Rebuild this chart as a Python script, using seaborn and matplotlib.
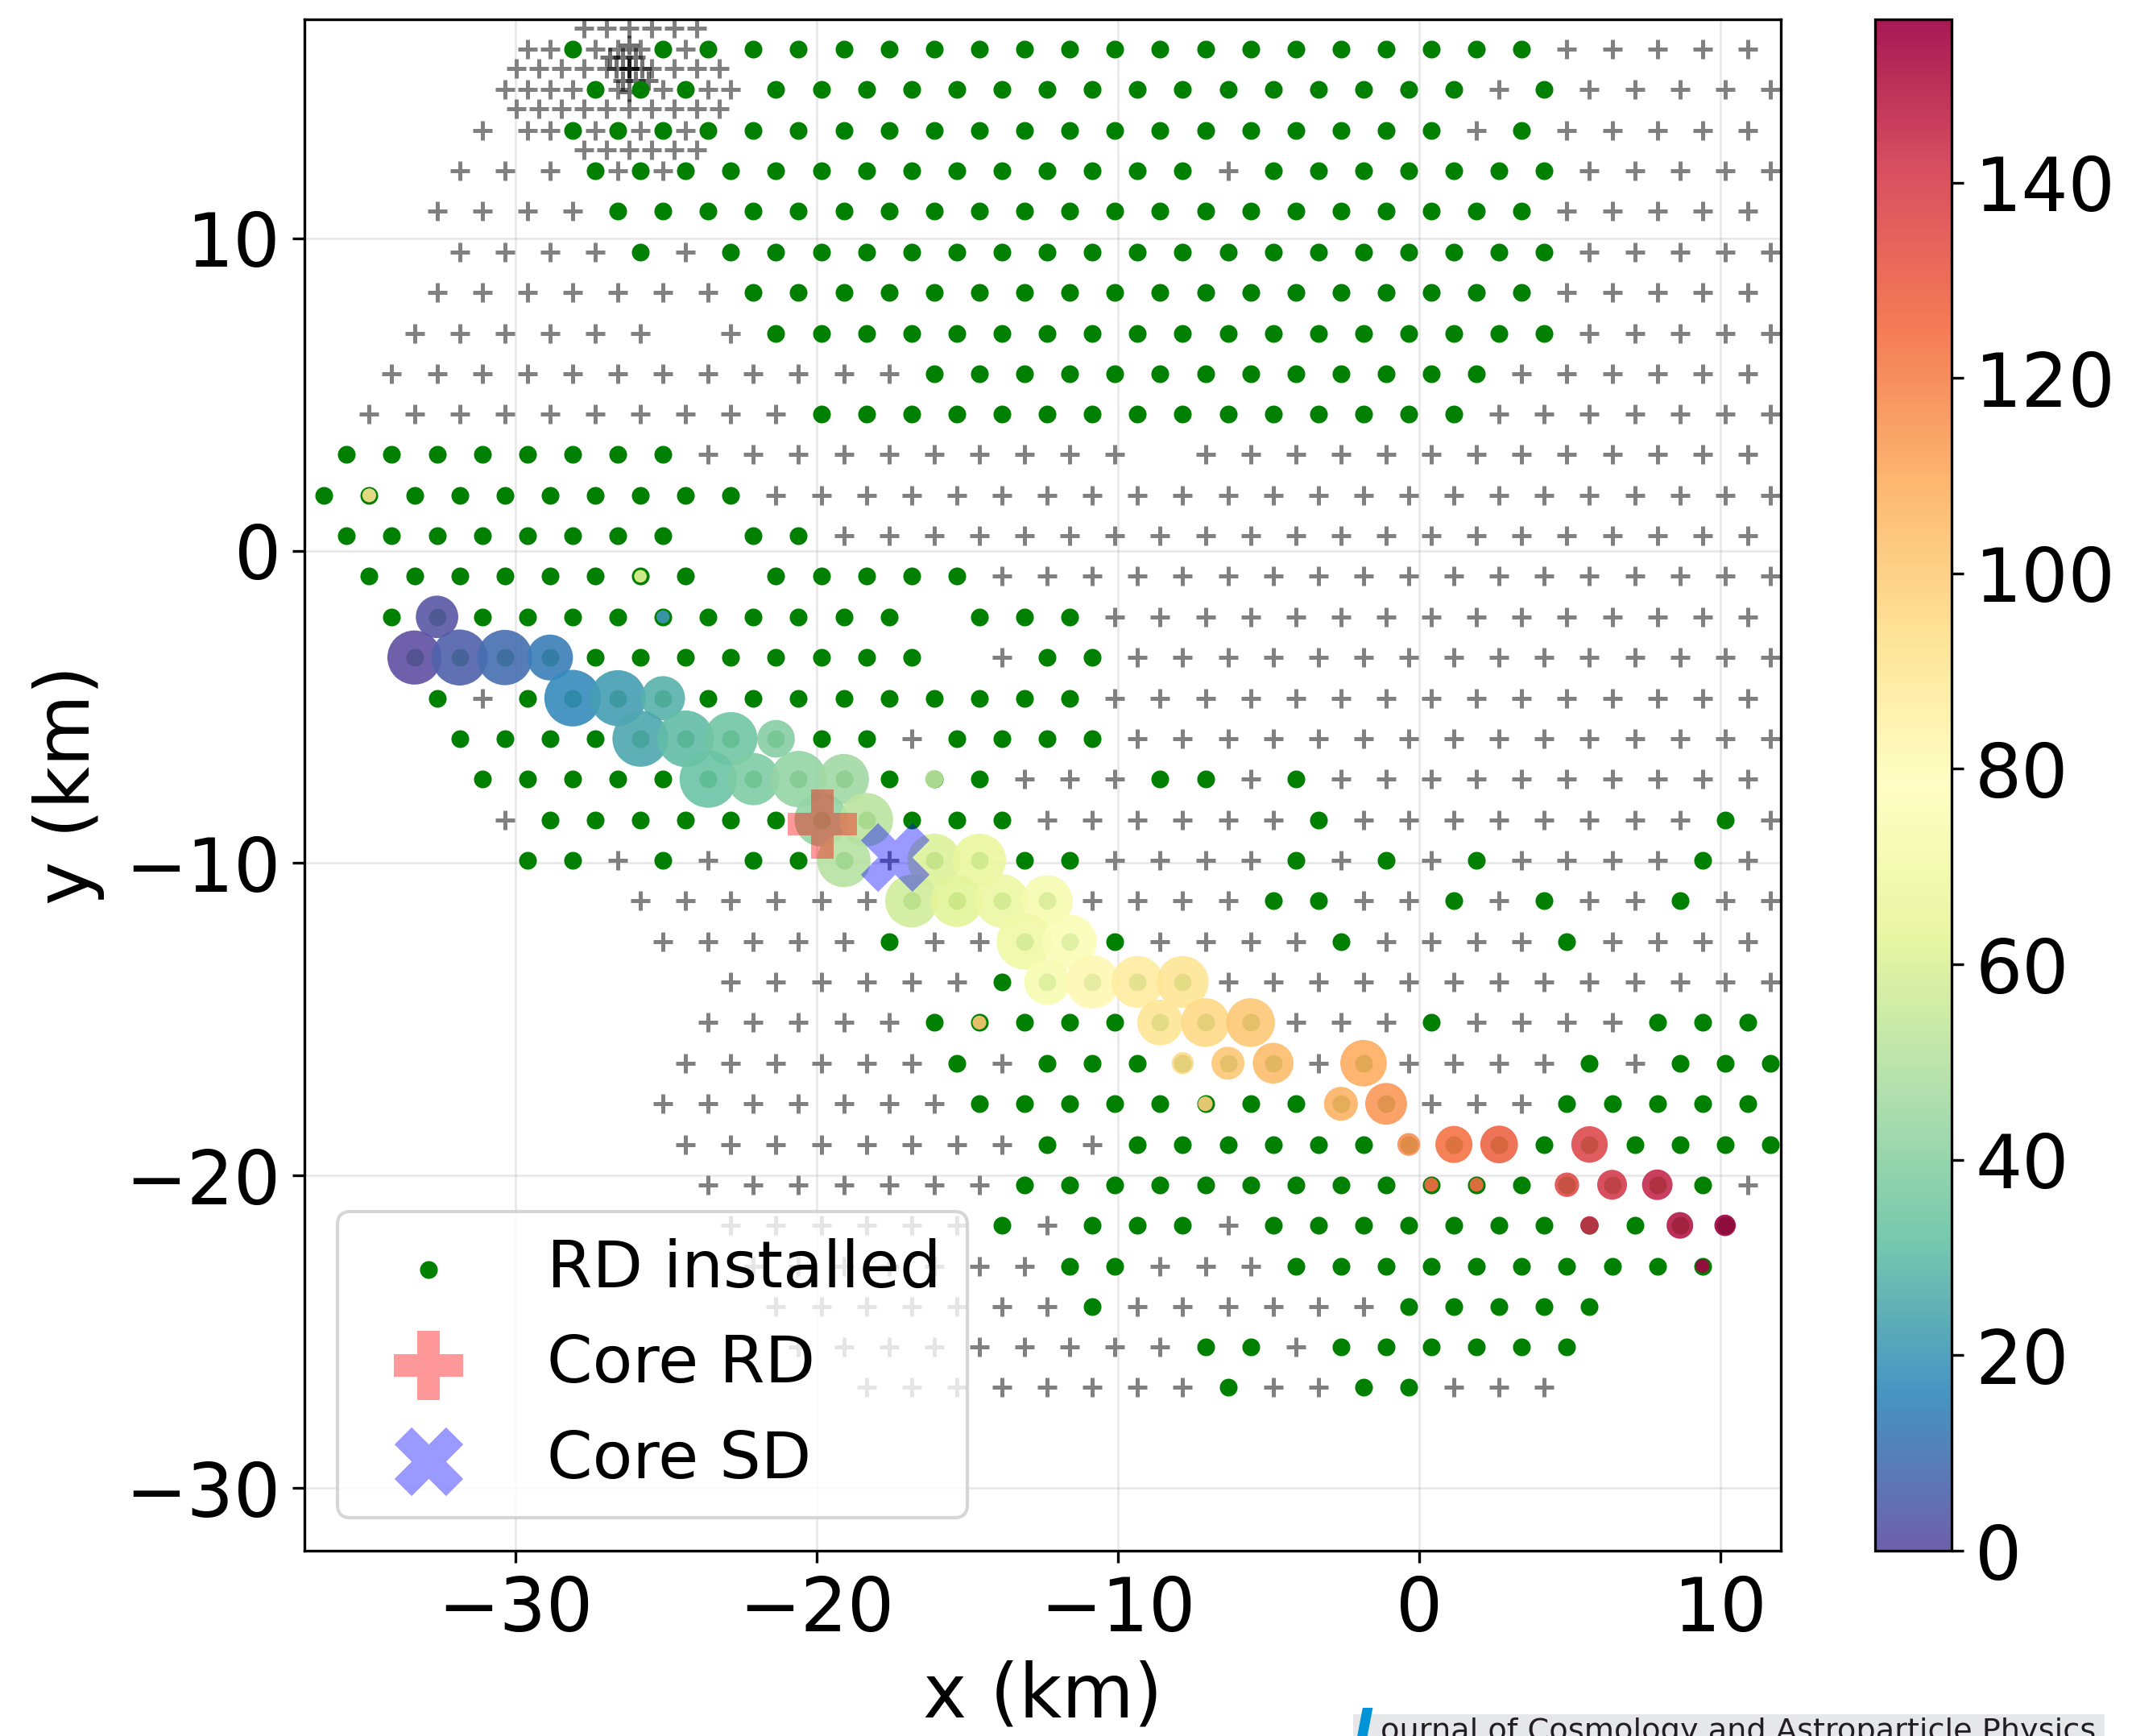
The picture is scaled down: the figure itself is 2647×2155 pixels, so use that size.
import matplotlib
matplotlib.use("Agg")
import matplotlib.pyplot as plt
import matplotlib as mpl
import pandas as pd
import seaborn as sns
from matplotlib.patches import Rectangle
from matplotlib import font_manager

# Surface detector grid (1.5 km triangular), read row by row from the top of the picture.
# Each row: its y (km), x of its first station (km) and a layout string,
# 'o' = RD installed (green dot), '+' = SD only (grey plus), ' ' = no station.
row_y = [16.05, 14.75, 13.45, 12.16, 10.86, 9.56, 8.26, 6.96, 5.67, 4.37, 3.07, 1.77,
         0.47, -0.82, -2.12, -3.42, -4.72, -6.02, -7.31, -8.61, -9.91, -11.21, -12.51,
         -13.80, -15.10, -16.40, -17.70, -19.00, -20.29, -21.59, -22.89, -24.19, -25.49, -26.78]
row_x0 = [-29.60, -30.35, -31.10, -31.85, -32.60, -31.85, -32.60, -33.35, -34.10, -34.85,
          -35.60, -36.35, -35.60, -34.85, -34.10, -33.35, -32.60, -31.85, -31.10, -30.35,
          -29.60, -25.85, -25.10, -22.85, -23.60, -24.35, -25.10, -24.35, -23.60, -22.85,
          -22.10, -21.35, -20.60, -18.35]
row_layout = [
    "+o+" + "o" * 20 + "+" * 5,
    "++ooo+o" + "o" * 15 + "+o" + "+" * 5,
    "++" + "o" * 20 + "+o" + "+" * 5,
    "+++" + "o" * 14 + "+" + "o" * 7 + "+" * 5,
    "++++" + "o" * 21 + "+" * 5,
    "++++o+" + "o" * 19 + "+" * 5,
    "+" * 7 + "o" * 18 + "+" * 5,
    "+" * 6 + " +" + "o" * 18 + "+" * 5,
    "+" * 12 + "o" * 13 + "+" * 6,
    "+" * 10 + "o" * 15 + "+" * 7,
    "o" * 8 + "+" * 10 + " " + "+" * 13,
    "o" * 10 + "+" * 23,
    "o" * 8 + " oo" + "+" * 21,
    "o" * 8 + " " + "o" * 5 + "+" * 18,
    "o" * 12 + " ooo" + "+" * 15,
    "o" * 12 + " +oo" + "+" * 15,
    "o+" + "o" * 13 + "+" * 15,
    "o" * 10 + "+" + "o" * 4 + "+" * 15,
    "o" * 12 + "+++oo+o" + "+" * 10,
    "+" + "o" * 11 + "+" * 6 + "o" + "+" * 8 + "o+",
    "oo+o+ooo+oooo++++o+o+o++++o+",
    "++++++oooo++++oo++o+o++o++",
    "+++++o++ooo++++o++++o++++",
    "++++++ooooo" + "+" * 13,
    "+++++oooooooo+++o++++ooo",
    "++++++o+oooooo+o++++o+ooo",
    "+" * 7 + "o" * 10 + "+++" + "o" * 5,
    "+" * 8 + "o+" + "o" * 15,
    "+" * 7 + "o" * 16 + "+",
    "+" * 6 + "o+ooo+" + "o" * 11,
    "+" * 7 + "oo+++" + "o" * 10,
    "+" * 7 + "o" + "+" * 6 + "o" * 5,
    "+" * 9 + "oo+" + "o" * 6,
    "+" * 8 + "o++oo+++",
]
GRID_STEP = 1.5

# 750 m infill (SD only) around the top-left corner
infill_y = [16.71, 16.05, 15.42, 14.75, 14.13, 13.45, 12.83, 12.16]
infill_x = [
    [-27.725, -26.975, -26.225, -25.475, -24.725, -23.975],
    [-28.85, -27.35, -25.85, -24.35],
    [-29.975, -29.225, -28.475, -27.725, -26.975, -26.225, -25.475, -24.725, -23.975, -23.225],
    [-29.60, -28.10, -26.60, -25.10, -23.60],
    [-29.975, -29.225, -28.475, -27.725, -26.975, -26.225, -25.475, -24.725, -23.975, -23.225],
    [-28.85, -27.35, -25.85, -24.35],
    [-27.725, -26.975, -26.225, -25.475, -24.725, -23.975],
    [-26.60, -25.10],
]

# dense cluster in the infill centre (dark pluses)
cluster_x = [-26.23, -26.23, -26.66, -25.79, -26.45, -26.01, -26.45, -26.01, -26.23, -26.23,
             -26.88, -25.58]
cluster_y = [15.42, 15.42, 15.42, 15.42, 15.80, 15.80, 15.05, 15.05, 16.17, 14.68,
             15.80, 15.05]

# stations with a radio signal: position (km), colour value, marker area
sig_x = [-32.60, -33.35, -31.85, -30.35, -28.85, -28.10, -26.60, -25.10, -25.85, -24.35,
         -22.85, -21.35, -23.60, -22.10, -20.60, -25.85, -25.10, -34.85, -19.10, -16.10,
         -19.85, -18.35, -19.10, -16.10, -14.60, -16.85, -15.35, -13.85, -12.35, -13.10,
         -11.60, -12.35, -10.85, -9.35, -7.85, -14.60, -8.60, -7.10, -5.60, -7.85,
         -6.35, -4.85, -7.10, -1.85, -2.60, -1.10, -0.35, 1.15, 2.65, 5.65,
         0.40, 1.90, 4.90, 6.40, 7.90, 5.65, 8.65, 10.15, 9.40]
sig_y = [-2.12, -3.42, -3.42, -3.42, -3.42, -4.72, -4.72, -4.72, -6.02, -6.02,
         -6.02, -6.02, -7.31, -7.31, -7.31, -0.82, -2.12, 1.77, -7.31, -7.31,
         -8.61, -8.61, -9.91, -9.91, -9.91, -11.21, -11.21, -11.21, -11.21, -12.51,
         -12.51, -13.80, -13.80, -13.80, -13.80, -15.10, -15.10, -15.10, -15.10, -16.40,
         -16.40, -16.40, -17.70, -16.40, -17.70, -17.70, -19.00, -19.00, -19.00, -19.00,
         -20.29, -20.29, -20.29, -20.29, -20.29, -21.59, -21.59, -21.59, -22.89]
sig_value = [2, 0, 5, 9, 13, 17, 22, 27, 24, 30,
             34, 39, 33, 37, 42, 63, 20, 92, 45, 52,
             42, 52, 50, 60, 65, 57, 62, 67, 72, 69,
             75, 73, 82, 87, 91, 101, 91, 96, 101, 96,
             101, 105, 99, 110, 108, 115, 117, 124, 128, 137,
             125, 126, 136, 141, 146, 145, 150, 156.7, 156]
sig_area = [160, 260, 278, 272, 187, 284, 278, 172, 278, 284,
            254, 126, 291, 242, 282, 14, 15, 17, 225, 30,
            254, 254, 254, 254, 254, 248, 239, 254, 233, 278,
            260, 187, 254, 239, 239, 17, 185, 211, 211, 43,
            97, 148, 19, 192, 102, 155, 46, 122, 126, 118,
            17, 17, 53, 79, 83, 30, 63, 41, 17]

core_rd_x, core_rd_y = [-19.8], [-8.75]
core_sd_x, core_sd_y = [-17.4], [-9.8]
VMIN, VMAX = 0, 156.7

# build the station table from the row layouts
records = []
for y, x0, layout in zip(row_y, row_x0, row_layout):
    for i, ch in enumerate(layout):
        if ch == " ":
            continue
        records.append({"x": x0 + GRID_STEP * i, "y": y, "rd": ch == "o"})
for y, xs in zip(infill_y, infill_x):
    for x in xs:
        records.append({"x": x, "y": y, "rd": False})
stations = pd.DataFrame(records)
sd_only = stations[~stations["rd"]]
rd_on = stations[stations["rd"]]

W, H = 2647, 2155
fig = plt.figure(figsize=(W / 300, H / 300), dpi=300)
ax = fig.add_axes([378 / W, 1 - 1925 / H, (2211 - 378) / W, (1925 - 24) / H])
cax = fig.add_axes([2328 / W, 1 - 1925 / H, (2423 - 2328) / W, (1925 - 24) / H])

sns.scatterplot(x=sd_only["x"], y=sd_only["y"], marker="+", color="gray", s=34,
                linewidth=1.2, zorder=1, legend=False, ax=ax)
sns.scatterplot(x=cluster_x, y=cluster_y, marker="+", color="black", alpha=0.55, s=34,
                linewidth=1.2, zorder=1, legend=False, ax=ax)
sns.scatterplot(x=rd_on["x"], y=rd_on["y"], marker="o", color="green", s=28,
                linewidth=0, zorder=2, legend=False, label="RD installed", ax=ax)
sns.scatterplot(x=sig_x, y=sig_y, hue=sig_value, palette="Spectral_r", hue_norm=(VMIN, VMAX),
                s=sig_area, alpha=0.9, linewidth=0, zorder=3, legend=False, ax=ax)
sns.scatterplot(x=core_rd_x, y=core_rd_y, marker="P", color="red", alpha=0.4, s=424,
                linewidth=0, zorder=4, legend=False, label="Core RD", ax=ax)
sns.scatterplot(x=core_sd_x, y=core_sd_y, marker="X", color="blue", alpha=0.4, s=420,
                linewidth=0, zorder=4, legend=False, label="Core SD", ax=ax)

ax.set_xlim(-37, 12)
ax.set_ylim(-32, 17)
ax.set_xticks([-30, -20, -10, 0, 10])
ax.set_yticks([-30, -20, -10, 0, 10])
ax.grid(True, color="#b0b0b0", alpha=0.3, linewidth=0.6)
ax.set_axisbelow(True)
ax.tick_params(labelsize=22)
ax.set_xlabel("x (km)", fontsize=22)
ax.set_ylabel("y (km)", fontsize=22, labelpad=6)
ax.legend(loc="lower left", fontsize=19.5)

# colour bar for the signal values
sm = mpl.cm.ScalarMappable(norm=mpl.colors.Normalize(VMIN, VMAX), cmap="Spectral_r")
cb = fig.colorbar(sm, cax=cax, alpha=0.9)
cb.set_ticks(list(range(0, 141, 20)))
cax.tick_params(labelsize=22)

# journal banner at the bottom right, cut by the image edge as in the original
names = {f.name for f in font_manager.fontManager.ttflist}
narrow = "Liberation Sans Narrow" if "Liberation Sans Narrow" in names else "DejaVu Sans"
banner_size = 11 if narrow != "DejaVu Sans" else 9.2
fig.patches.append(Rectangle((1680 / W, 0), (2613 - 1680) / W, 27 / H, transform=fig.transFigure,
                             facecolor="#e6e7e8", edgecolor="none"))
fig.text(1680 / W, -14 / H, "J", color="#0093d7", fontsize=16, fontstyle="italic",
         fontweight="bold", va="baseline")
fig.text(1714 / W, -5 / H, "ournal of Cosmology and Astroparticle Physics", fontsize=banner_size,
         family=narrow, color="#231f20", va="baseline")

fig.savefig("out.png", dpi=300)
